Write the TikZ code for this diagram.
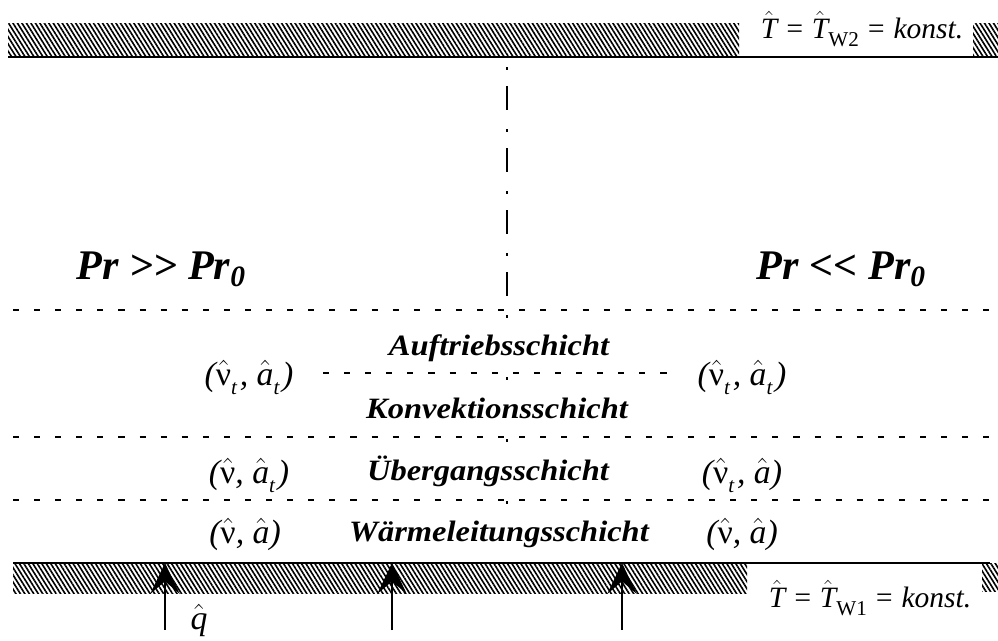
\documentclass[tikz,border=0pt]{standalone}
\usepackage{fontspec}
\setmainfont{Liberation Serif}
\usepackage{graphicx}
\usetikzlibrary{patterns.meta,arrows.meta}

% hatted symbols and lowered subscripts
\newcommand\hatup[1]{$\hat{\mbox{\upshape #1}}$}
\newcommand\hatit[1]{$\hat{\mbox{\itshape #1}}$}
\newcommand\lowsub[1]{\raisebox{-0.28em}{\fontsize{15}{15}\selectfont\itshape #1}\kern0.08em}
\newcommand\wallsub[1]{\raisebox{-0.3em}{\fontsize{15}{15}\selectfont\upshape #1}}
\newcommand\prsub{\raisebox{-0.18em}{\fontsize{21}{21}\selectfont 0}}
\newcommand\wide[1]{\scalebox{1.1}[1]{#1}}

\begin{document}
\begin{tikzpicture}[x=0.025cm,y=-0.025cm,
  hatch/.style={pattern={Lines[angle=-58,distance=2.7pt,line width=1.15pt]}},
  wall/.style={line width=1.4pt},
  layerline/.style={line width=1pt, dash pattern=on 4.3pt off 10.7pt},
  axisline/.style={line width=0.9pt, dash pattern=on 2.1pt off 11.4pt on 17.1pt off 13.5pt},
  prtext/.style={font=\fontsize{30}{32}\selectfont\bfseries\itshape, anchor=base, inner sep=0pt},
  layertext/.style={font=\fontsize{21}{25}\selectfont\bfseries\itshape, anchor=base, fill=white, inner sep=1pt},
  coef/.style={font=\fontsize{24}{28}\selectfont\itshape, anchor=base, inner sep=1pt},
  walllabel/.style={font=\fontsize{21}{24}\selectfont\itshape, anchor=base, inner sep=0pt},
  qarrow/.style={line width=0.8pt, -{Stealth[length=22pt,width=21pt,inset=9pt]}}]

\useasboundingbox (0,0) rectangle (998,640);

% upper wall
\fill[hatch] (8,23) rectangle (739,57);
\fill[hatch] (973,23) rectangle (998,57);
\draw[wall] (8,57) -- (998,57);
\node[walllabel] (tw2) at (862,38) {\hatit{T} = \hatit{T}\wallsub{W2} = konst.};

% lower wall
\fill[hatch] (13,563) rectangle (747,593);
\fill[hatch] (982,563) rectangle (998,591);
\draw[wall] (13,563) -- (990,563);
\node[walllabel] (tw1) at (870,607) {\hatit{T} = \hatit{T}\wallsub{W1} = konst.};

% symmetry axis
\draw[axisline] (507,67) -- (507,505);

% layer boundaries
\draw[layerline] (13,310) -- (998,310);
\draw[layerline] (13,437) -- (998,437);
\draw[layerline] (13,500) -- (998,500);

% Prandtl number regimes
\node[prtext] (prl) at (161,279) {Pr >{}> Pr\prsub};
\node[prtext] (prr) at (841,279) {Pr <{}< Pr\prsub};

% layer names
\node[layertext] (auf) at (499,355) {\wide{Auftriebsschicht}};
\node[layertext] (kon) at (497,418) {\wide{Konvektionsschicht}};
\node[layertext] (ueb) at (488,480) {\wide{Übergangsschicht}};
\node[layertext] (wae) at (499,541) {\wide{Wärmeleitungsschicht}};

% transport coefficients
\node[coef] (cl1) at (249,385) {(\hatup{ν}\lowsub{t}, \hatit{a}\lowsub{t})};
\node[coef] (cr1) at (742,385) {(\hatup{ν}\lowsub{t}, \hatit{a}\lowsub{t})};
\node[coef] (cl2) at (249,483) {(\hatup{ν}, \hatit{a}\lowsub{t})};
\node[coef] (cr2) at (742,483) {(\hatup{ν}\lowsub{t}, \hatit{a})};
\node[coef] (cl3) at (245,543) {(\hatup{ν}, \hatit{a})};
\node[coef] (cr3) at (742,543) {(\hatup{ν}, \hatit{a})};

% boundary between the outer and convective layer
\coordinate (s1) at (323,373);
\coordinate (s2) at (667,373);
\draw[layerline] (s1) -- (s2);

% wall heat flux
\coordinate (q1b) at (165,630); \coordinate (q1t) at (165,563);
\coordinate (q2b) at (392,630); \coordinate (q2t) at (392,563);
\coordinate (q3b) at (622,630); \coordinate (q3t) at (622,563);
\draw[qarrow] (q1b) -- (q1t);
\draw[qarrow] (q2b) -- (q2t);
\draw[qarrow] (q3b) -- (q3t);
\node[coef] (q) at (199,629) {\hatit{q}};
\end{tikzpicture}
\end{document}
